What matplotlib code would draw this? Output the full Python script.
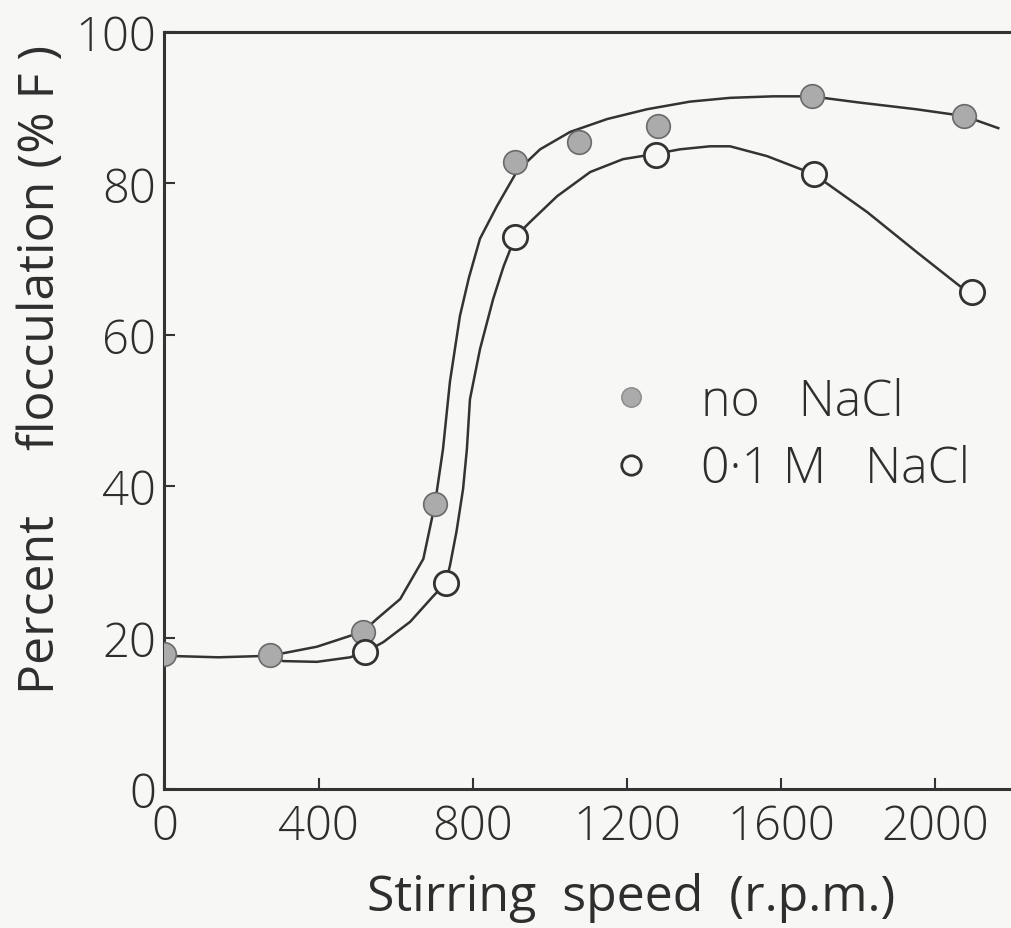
import matplotlib
matplotlib.use("Agg")
import matplotlib.pyplot as plt
from matplotlib.lines import Line2D

plt.rcParams['font.family'] = ['Open Sans', 'DejaVu Sans']
plt.rcParams['font.weight'] = 'light'

# --- measured points ---
speed_nacl0 = [0, 275, 515, 702, 910, 1075, 1280, 1680, 2075]
floc_nacl0 = [17.8, 17.7, 20.8, 37.6, 82.8, 85.5, 87.6, 91.5, 88.9]

speed_nacl01 = [521, 730, 909, 1275, 1686, 2096]
floc_nacl01 = [18.1, 27.2, 72.9, 83.8, 81.2, 65.6]

# --- hand-drawn smooth curves ---
curve0_x = [0, 140, 274, 396, 474, 515, 552, 612, 672, 702, 723, 741, 767,
            790, 819, 863, 915, 975, 1053, 1149, 1253, 1364, 1468, 1580,
            1679, 1800, 1950, 2075, 2164]
curve0_y = [17.6, 17.4, 17.6, 18.8, 20.1, 20.8, 22.5, 25.1, 30.4, 37.6, 44.9,
            53.8, 62.5, 67.5, 72.7, 77.0, 81.6, 84.5, 86.8, 88.5, 89.8, 90.8,
            91.3, 91.5, 91.5, 90.7, 89.8, 88.9, 87.3]

curve1_x = [275, 308, 396, 482, 521, 568, 638, 698, 730, 741, 758, 775, 785,
            793, 819, 853, 880, 910, 949, 1019, 1105, 1190, 1275, 1338, 1416,
            1468, 1564, 1686, 1824, 1953, 2065, 2096]
curve1_y = [17.6, 16.9, 16.8, 17.4, 18.1, 19.4, 22.1, 25.5, 27.2, 29.5, 34.0,
            39.6, 44.9, 51.5, 58.1, 64.7, 69.0, 72.9, 74.9, 78.3, 81.5, 83.2,
            83.9, 84.5, 84.9, 84.9, 83.6, 81.2, 76.2, 70.9, 66.4, 65.6]

legend_labels = ["no   NaCl", "0\u00b71 M   NaCl"]

BG = '#f7f7f5'
INK = '#333333'
TXT = '#2e2e2e'

fig = plt.figure(figsize=(10.11, 9.29), dpi=100, facecolor=BG)
ax = fig.add_axes([0.1626, 0.1496, 0.8374, 0.8149], facecolor=BG)

ax.plot(curve0_x, curve0_y, color=INK, linewidth=1.8, zorder=2)
ax.plot(curve1_x, curve1_y, color=INK, linewidth=1.8, zorder=2)

ax.plot(speed_nacl0, floc_nacl0, linestyle='none', marker='o', markersize=17,
        markerfacecolor='#ababab', markeredgecolor='#6a6a6a',
        markeredgewidth=1.2, zorder=3)
ax.plot(speed_nacl01, floc_nacl01, linestyle='none', marker='o', markersize=17.5,
        markerfacecolor=BG, markeredgecolor=INK, markeredgewidth=2.0, zorder=3)

ax.set_xlim(0, 2197)
ax.set_ylim(0, 100)
ax.set_xticks([0, 400, 800, 1200, 1600, 2000])
ax.set_yticks([0, 20, 40, 60, 80, 100])
ax.tick_params(direction='in', length=8, width=1.5, colors=INK,
               labelsize=34, labelcolor=TXT)
ax.tick_params(axis='x', pad=10)
ax.tick_params(axis='y', pad=6)

for side in ['left', 'bottom', 'top']:
    ax.spines[side].set_color(INK)
    ax.spines[side].set_linewidth(2.2)
ax.spines['right'].set_visible(False)

ax.set_xlabel("Stirring  speed  (r.p.m.)", fontsize=36, color=TXT)
ax.set_ylabel("Percent     flocculation (% F )", fontsize=36, color=TXT)
ax.xaxis.set_label_coords(0.551, -0.110)
ax.yaxis.set_label_coords(-0.116, 0.555)

handles = [
    Line2D([], [], linestyle='none', marker='o', markersize=14,
           markerfacecolor='#ababab', markeredgecolor='#8a8a8a'),
    Line2D([], [], linestyle='none', marker='o', markersize=14,
           markerfacecolor=BG, markeredgecolor=INK, markeredgewidth=2.0),
]
ax.legend(handles, legend_labels, loc='center left', bbox_to_anchor=(0.533, 0.467),
          frameon=False, fontsize=36, handletextpad=1.1, labelspacing=0.35,
          handlelength=0.6, borderpad=0, borderaxespad=0, labelcolor=TXT)

fig.savefig("out.png", dpi=100, facecolor=BG)
